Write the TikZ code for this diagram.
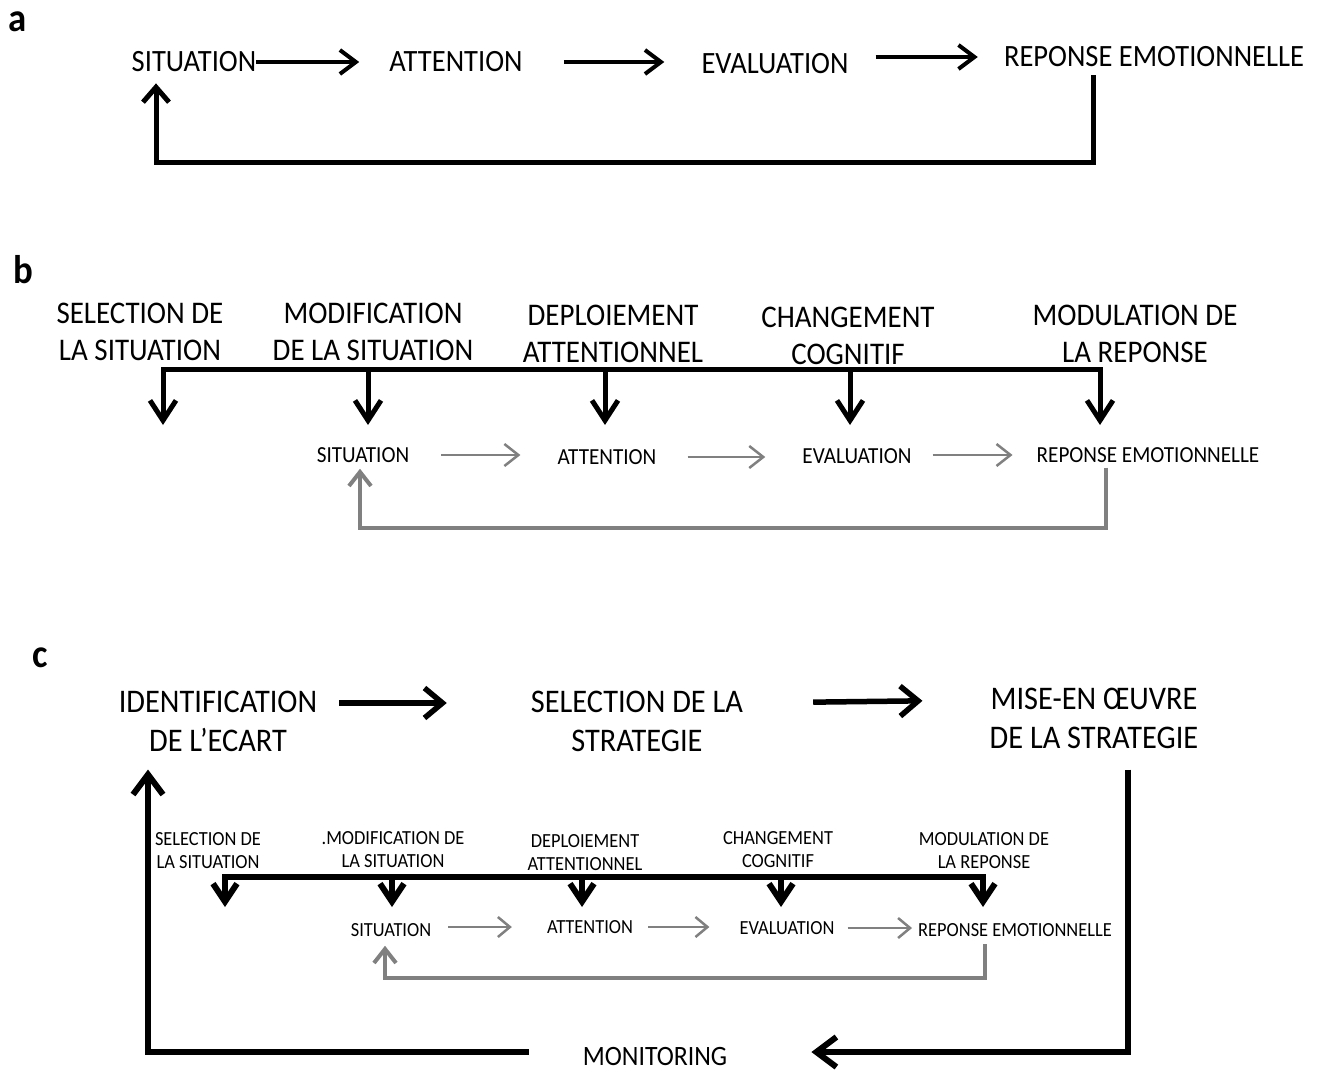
\documentclass[tikz,border=0pt]{standalone}
\usepackage{fontspec}
\setmainfont{Carlito}[FakeStretch=0.92]
\usetikzlibrary{arrows.meta}
\tikzset{
	panel/.style={font=\bfseries\fontsize{40}{40}\selectfont, inner sep=0pt}, % panel letters
	stepA/.style={font=\fontsize{31}{37}\selectfont, inner sep=0pt},
	bigB/.style={align=center, font=\fontsize{31.5}{37}\selectfont, inner sep=0pt},
	smallB/.style={font=\fontsize{23}{27}\selectfont, inner sep=0pt},
	bigC/.style={align=center, font=\fontsize{33}{39}\selectfont, inner sep=0pt},
	smallC/.style={align=center, font=\fontsize{20}{23}\selectfont, inner sep=0pt},
	arrA/.style={line width=4pt, -{Straight Barb[length=16pt, width=24pt]}},
	loopA/.style={line width=5pt, -{Straight Barb[length=15pt, width=26pt]}},
	downB/.style={line width=5pt, -{Straight Barb[length=20pt, width=26pt]}},
	grayarr/.style={draw=black!50, line width=2.5pt, -{Straight Barb[length=14pt, width=22pt]}},
	grayloop/.style={draw=black!50, line width=4pt, -{Straight Barb[length=14pt, width=22pt]}},
	arrC/.style={line width=5.5pt, -{Straight Barb[length=18pt, width=30pt]}},
	loopC/.style={line width=6pt, -{Straight Barb[length=20pt, width=30pt]}},
	downC/.style={line width=6pt, -{Straight Barb[length=18pt, width=24pt]}},
	graysm/.style={draw=black!50, line width=2.5pt, -{Straight Barb[length=12pt, width=20pt]}},
}
\begin{document}
\begin{tikzpicture}[x=1pt, y=-1pt]
	\useasboundingbox (0,0) rectangle (1328,1073);
	% ---- a ----
	\node[panel] (pa) at (18,22) {a};
	\node[stepA] (sitA) at (194,62) {SITUATION};
	\node[stepA] (attA) at (456,62) {ATTENTION};
	\node[stepA] (evaA) at (775,64) {EVALUATION};
	\node[stepA] (repA) at (1154,57) {REPONSE EMOTIONNELLE};
	\coordinate (cornA1) at (1093,162);
	\coordinate (cornA2) at (156,162);
	\draw[arrA, shorten >=30pt] (sitA.east) -- (sitA.east -| attA.west);
	\draw[arrA, shorten <=41pt, shorten >=37pt] (attA.east) -- (attA.east -| evaA.west);
	\draw[arrA, shorten <=27pt, shorten >=26pt] (evaA.east |- repA.west) -- (repA.west);
	\draw[loopA, shorten <=8pt, shorten >=11pt] (repA.south -| cornA1) -- (cornA1) -- (cornA2) -- (cornA2 |- sitA.south);

	% ---- b ----
	\node[panel] (pb) at (23,270) {b};
	\node[bigB] (selB) at (140,332) {SELECTION DE\\LA SITUATION};
	\node[bigB] (modB) at (373,332) {MODIFICATION\\DE LA SITUATION};
	\node[bigB] (depB) at (613,334) {DEPLOIEMENT\\ATTENTIONNEL};
	\node[bigB] (chgB) at (848,336) {CHANGEMENT\\COGNITIF};
	\node[bigB] (mdlB) at (1135,334) {MODULATION DE\\LA REPONSE};
	\node[smallB] (sitB) at (363,455) {SITUATION};
	\node[smallB] (attB) at (607,457) {ATTENTION};
	\node[smallB] (evaB) at (857,456) {EVALUATION};
	\node[smallB] (repB) at (1148,455) {REPONSE EMOTIONNELLE};
	\coordinate (barB) at (0,369);
	\coordinate (tipB1) at (163,425);
	\coordinate (tipB2) at (368,425);
	\coordinate (tipB3) at (605,425);
	\coordinate (tipB4) at (850,425);
	\coordinate (tipB5) at (1100,425);
	\draw[downB] (tipB5 |- barB) -- (tipB1 |- barB) -- (tipB1);
	\draw[downB] (tipB1 |- barB) -- (tipB5 |- barB) -- (tipB5);
	\foreach \k in {2,3,4}
		\draw[downB] (tipB\k |- barB) -- (tipB\k);
	\draw[grayarr, shorten <=32pt, shorten >=37pt] (sitB.east) -- (sitB.east -| attB.west);
	\draw[grayarr, shorten <=31pt, shorten >=37pt] (attB.east) -- (attB.east -| evaB.west);
	\draw[grayarr, shorten <=21pt, shorten >=24pt] (evaB.east |- repB.west) -- (repB.west);
	\coordinate (cornB1) at (1106,528);
	\coordinate (cornB2) at (360,528);
	\draw[grayloop, shorten <=5pt, shorten >=6pt] (repB.south -| cornB1) -- (cornB1) -- (cornB2) -- (cornB2 |- sitB.south);

	% ---- c ----
	\node[panel] (pc) at (40,658) {c};
	\node[bigC] (idC) at (218,721) {IDENTIFICATION\\DE L’ECART};
	\node[bigC] (selC) at (637,721) {SELECTION DE LA\\STRATEGIE};
	\node[bigC] (misC) at (1094,718) {MISE-EN ŒUVRE\\DE LA STRATEGIE};
	\node[font=\fontsize{28}{32}\selectfont, inner sep=0pt, anchor=base] (monC) at (655,1065) {MONITORING};
	\draw[arrC, shorten <=22pt, shorten >=84pt] ([yshift=18pt]idC.east) -- ([yshift=18pt]selC.west);
	\draw[arrC, shorten <=70pt, shorten >=67pt] ([yshift=18pt]selC.east) -- ([yshift=18pt]misC.west);
	\coordinate (cornC1) at (1128,1052);
	\coordinate (cornC2) at (148,1052);
	\draw[loopC, shorten <=21pt, shorten >=84pt] (misC.south -| cornC1) -- (cornC1) -- (monC.east |- cornC1);
	\draw[loopC, shorten <=54pt, shorten >=18pt] (monC.west |- cornC2) -- (cornC2) -- (cornC2 |- idC.south);
	\node[smallC] (selc) at (208,851) {SELECTION DE\\LA SITUATION};
	\node[smallC] (modc) at (393,850) {.MODIFICATION DE\\LA SITUATION};
	\node[smallC] (depc) at (585,853) {DEPLOIEMENT\\ATTENTIONNEL};
	\node[smallC] (chgc) at (778,850) {CHANGEMENT\\COGNITIF};
	\node[smallC] (mdlc) at (984,851) {MODULATION DE\\LA REPONSE};
	\node[smallC] (sitc) at (391,930) {SITUATION};
	\node[smallC] (attc) at (590,927) {ATTENTION};
	\node[smallC] (evac) at (787,928) {EVALUATION};
	\node[smallC] (repc) at (1015,930) {REPONSE EMOTIONNELLE};
	\coordinate (barC) at (0,877);
	\coordinate (tipC1) at (225,907);
	\coordinate (tipC2) at (392,907);
	\coordinate (tipC3) at (582,907);
	\coordinate (tipC4) at (781,907);
	\coordinate (tipC5) at (983,907);
	\draw[downC] (tipC5 |- barC) -- (tipC1 |- barC) -- (tipC1);
	\draw[downC] (tipC1 |- barC) -- (tipC5 |- barC) -- (tipC5);
	\foreach \k in {2,3,4}
		\draw[downC] (tipC\k |- barC) -- (tipC\k);
	\draw[graysm, shorten <=17pt, shorten >=35pt] (sitc.east |- attc.west) -- (attc.west);
	\draw[graysm, shorten <=15pt, shorten >=30pt] (attc.east) -- (attc.east -| evac.west);
	\draw[graysm, shorten <=13pt, shorten >=6pt] (evac.east) -- (evac.east -| repc.west);
	\coordinate (cornc1) at (985,978);
	\coordinate (cornc2) at (385,978);
	\draw[grayloop, shorten <=7pt, shorten >=9pt] (repc.south -| cornc1) -- (cornc1) -- (cornc2) -- (cornc2 |- sitc.south);
\end{tikzpicture}
\end{document}
